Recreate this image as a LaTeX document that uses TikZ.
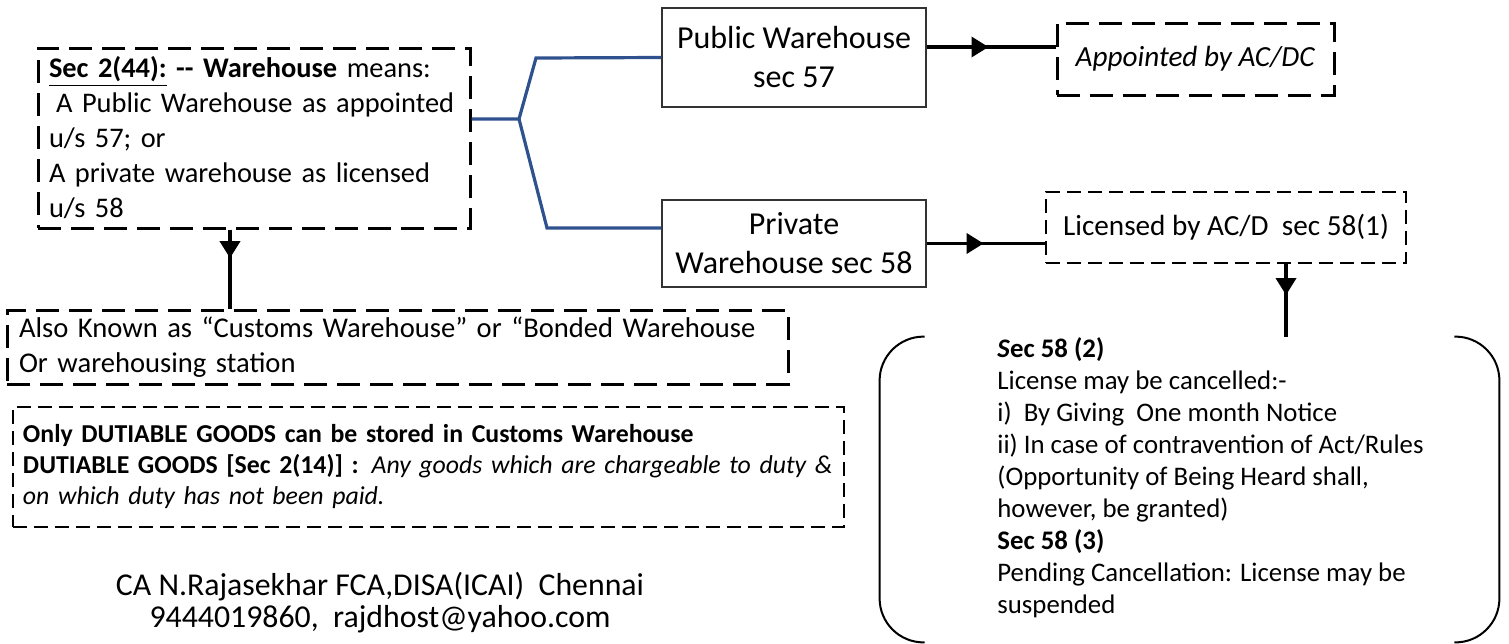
\documentclass[tikz,border=0pt]{standalone}
\usepackage{fontspec}
\setmainfont{Carlito}
\usetikzlibrary{arrows.meta, positioning, decorations.markings}
\definecolor{branchblue}{RGB}{47,82,143}

\begin{document}
\begin{tikzpicture}[
    x=0.5pt, y=-0.5pt,
    every node/.style={font=\fontsize{14.2}{17.5}\selectfont},
    dashbox/.style={draw, line width=1.5pt, dash pattern=on 11.5pt off 5pt, align=left, inner xsep=6pt},
    finebox/.style={draw, line width=0.75pt, dash pattern=on 7pt off 3.5pt, align=left, inner xsep=6pt},
    plainbox/.style={draw=black!80, line width=0.65pt, align=center, minimum width=132pt, font=\fontsize{16}{19.5}\selectfont},
    flow/.style={line width=1.8pt, postaction={decorate}, decoration={markings, mark=at position #1 with {\arrow{Triangle[length=8.5pt,width=10pt]}}}},
    branch/.style={draw=branchblue, line width=1.6pt},
    bracket/.style={line width=1pt, rounded corners=22pt},
    lbl/.style={align=left, inner sep=0pt}
]
\useasboundingbox (0,0) rectangle (1509,643);

% definition and the two kinds
\node[dashbox, text width=205pt, inner xsep=5.5pt, minimum height=90pt] (sec) at (254,138)
  {\underline{\textbf{Sec 2(44):}} \textbf{-{}- Warehouse} means:\\\hspace*{0.25em}A Public Warehouse as appointed\\u/s 57; or\\A private warehouse as licensed\\u/s 58};
\node[plainbox, minimum height=49.5pt] (pub)  at (794,57.5)  {Public Warehouse\\sec 57};
\node[plainbox, minimum height=43.5pt] (priv) at (794,243.5) {Private\\Warehouse sec 58};

% who appoints / licenses
\node[dashbox, minimum width=138.5pt, minimum height=36pt, font=\fontsize{14.6}{17.5}\selectfont] (appt) at (1195.5,59) {\textit{Appointed by AC/DC}};
\node[finebox, minimum width=180pt, minimum height=35.5pt, font=\fontsize{14.6}{17.5}\selectfont] (lic) at (1226,227.5) {Licensed by AC/D\ \ sec 58(1)};

% notes on the left
\node[dashbox, text width=378.5pt, minimum height=35.5pt, font=\fontsize{14.3}{17.5}\selectfont] (also) at (397.5,347.5)
  {Also Known as “Customs Warehouse” or “Bonded Warehouse\\Or warehousing station};
\node[finebox, text width=405.5pt, inner xsep=5pt, minimum height=60pt, font=\fontsize{12.9}{15.5}\selectfont] (dut) at (428.5,467)
  {\textbf{Only DUTIABLE GOODS can be stored in Customs Warehouse}\\\textbf{DUTIABLE GOODS [Sec 2(14)] :} \textit{Any goods which are chargeable to duty \&}\\\textit{on which duty has not been paid.}};
\node[align=center, font=\fontsize{15.9}{15.6}\selectfont] (author) at (380,602.5)
  {CA N.Rajasekhar FCA,DISA(ICAI)\ \ Chennai\\9444019860,\ \ rajdhost@yahoo.com};

% cancellation bracket
\node[inner sep=0pt, minimum width=309.5pt, minimum height=152.5pt] (brk) at (1189.5,489.5) {};
\draw[bracket] ([xshift=22.5pt]brk.north west) -- (brk.north west) -- (brk.south west) -- ([xshift=22.5pt]brk.south west);
\draw[bracket] ([xshift=-22.5pt]brk.north east) -- (brk.north east) -- (brk.south east) -- ([xshift=-22.5pt]brk.south east);
\node[lbl, anchor=west, font=\fontsize{13.4}{16}\selectfont] (cancel) at (997,477.5)
  {\textbf{\textit{S}ec 58 (2)}\\License may be cancelled:-\\i)\ \ By Giving\ \ One month Notice\\ii) In case of contravention of Act/Rules\\(Opportunity of Being Heard shall,\\however, be granted)\\\textbf{Sec 58 (3)}\\Pending Cancellation: License may be\\suspended};

% connectors
\coordinate (fork) at (519,119);
\draw[branch] (sec.east |- fork) -- (fork) -- ++(17,-61) -- (pub.west);
\draw[branch] (fork) -- ++(28,109) coordinate (lowbend) -- (lowbend -| priv.west);

\coordinate (pubarrow) at (0,47);
\draw[flow=0.48] (pub.east |- pubarrow) -- (appt.west |- pubarrow);
\draw[flow=0.48] (priv.east) -- (lic.west |- priv.east);

\coordinate (drop1) at (230,0);
\coordinate (drop2) at (1286,0);
\draw[flow=0.36] (sec.south -| drop1) -- (also.north -| drop1);
\draw[flow=0.43] (lic.south -| drop2) -- (brk.north -| drop2);
\end{tikzpicture}
\end{document}
